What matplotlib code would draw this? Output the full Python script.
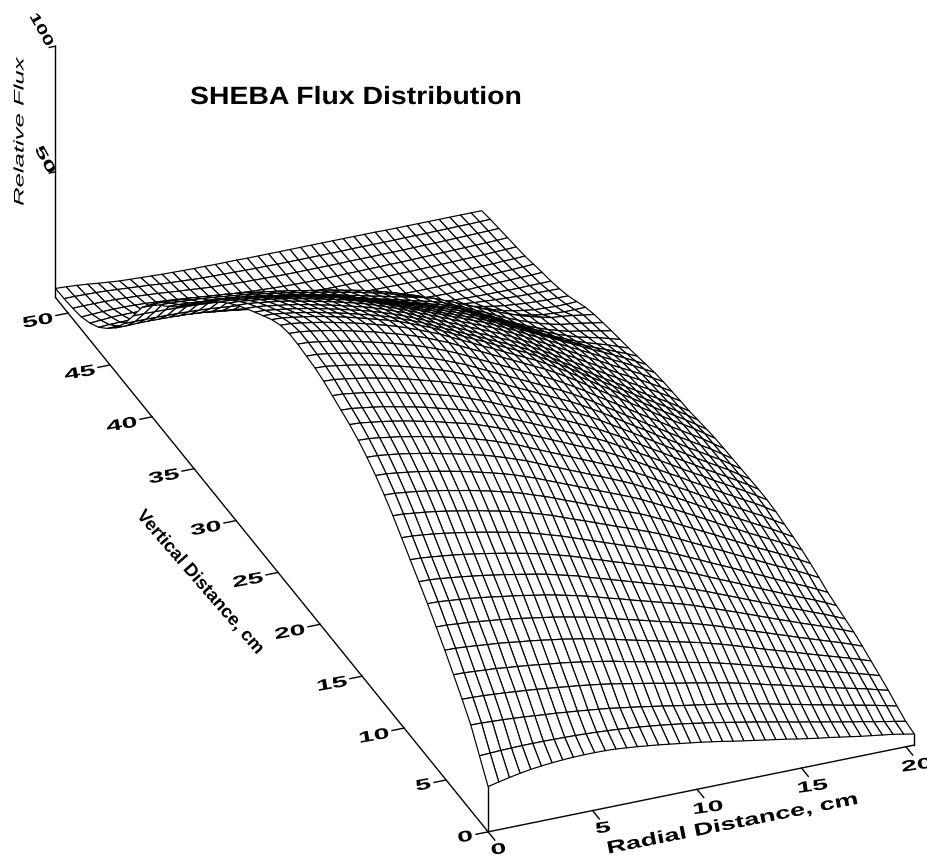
import numpy as np
import matplotlib
matplotlib.use("Agg")
import matplotlib.pyplot as plt
from matplotlib.patheffects import AbstractPathEffect
from matplotlib.transforms import Affine2D
from mpl_toolkits.mplot3d import proj3d

# Radial lines every 0.51 cm, vertical lines every 1.03 cm
radial_cm = np.linspace(0, 20.4, 41)
vertical_cm = np.linspace(0, 51.5, 51)

# Relative flux x10, one row per vertical line (bottom of core first)
flux_x10 = [
[180,190,199,207,214,219,223,226,228,229,229,228,226,222,218,213,208,202,196,190,184,177,170,162,155,148,141,134,127,119,112,105,99,92,85,78,72,66,60,52,44],
[260,262,264,265,266,266,266,265,264,263,261,259,256,253,249,245,240,235,229,223,216,209,202,194,186,178,170,161,153,144,135,127,118,110,101,93,85,76,68,60,52],
[340,339,337,335,332,329,325,321,318,313,309,304,299,294,287,281,274,267,260,252,245,238,231,224,217,209,200,191,182,172,163,154,144,135,126,116,108,99,90,80,70],
[400,399,397,394,391,387,383,379,374,369,364,359,353,347,340,332,324,316,308,299,291,283,275,266,258,249,239,229,218,207,197,186,175,165,154,143,133,123,113,101,90],
[455,454,451,448,445,440,436,431,426,420,415,409,402,395,387,379,369,360,351,342,333,323,314,305,296,285,274,262,250,238,226,214,202,190,178,166,155,143,131,119,106],
[510,509,506,502,498,494,489,483,478,472,465,459,451,443,434,425,415,404,394,384,374,363,353,343,333,321,309,296,282,269,255,242,229,216,202,189,176,163,150,136,122],
[560,559,555,552,547,542,537,531,525,518,511,504,496,487,478,468,457,445,434,423,412,400,390,378,367,354,341,327,312,298,283,269,254,240,225,211,197,183,169,154,138],
[610,609,605,601,596,591,585,578,572,565,557,550,541,531,521,510,498,485,474,461,449,437,425,413,401,387,372,357,341,326,310,294,278,262,247,231,216,201,185,169,152],
[655,654,650,645,640,634,628,621,614,606,598,590,581,570,559,548,534,521,508,495,482,469,456,443,430,415,399,383,366,349,332,315,298,281,264,247,231,214,198,180,162],
[700,698,694,689,684,678,671,664,656,648,639,630,620,609,597,585,571,556,543,528,515,500,487,472,459,443,426,409,390,372,354,336,317,299,281,263,245,228,211,192,172],
[745,743,739,734,728,721,714,706,698,689,680,671,660,648,635,622,607,592,577,562,547,532,518,502,488,471,453,434,415,395,376,357,337,318,299,279,260,242,223,203,182],
[790,788,783,778,772,765,757,749,741,731,722,712,701,688,675,661,645,629,614,598,582,566,551,535,519,502,483,463,442,422,402,382,361,341,321,300,280,261,241,220,198],
[830,828,823,818,811,804,796,787,779,769,759,748,737,724,709,695,679,662,646,629,613,596,580,564,548,529,509,489,467,446,425,404,382,361,340,318,298,278,257,235,212],
[865,863,858,852,846,838,830,821,812,802,791,780,768,755,740,725,708,691,674,657,640,623,606,589,572,553,532,511,489,467,445,423,400,378,357,334,313,292,271,248,224],
[895,893,888,882,875,867,859,849,840,829,819,808,795,781,766,751,733,715,698,680,663,645,628,610,592,573,551,530,506,484,461,438,415,393,370,347,325,303,281,257,233],
[920,918,913,906,900,891,883,873,864,853,842,830,817,803,787,772,753,735,717,699,681,663,645,627,609,589,567,545,521,498,474,451,427,404,381,357,335,312,290,265,240],
[940,938,932,926,919,911,902,892,883,871,860,849,836,821,805,789,770,752,734,715,697,678,660,642,624,603,581,558,534,510,486,463,438,415,391,367,344,321,299,274,248],
[955,953,947,941,934,925,916,907,897,885,874,862,849,834,818,802,783,764,746,727,708,689,671,652,634,613,590,567,542,518,494,470,445,421,398,373,350,327,303,278,252],
[970,968,962,956,948,940,931,920,910,899,887,875,862,846,830,813,794,775,756,737,718,699,680,661,642,620,597,574,549,524,499,475,449,425,401,375,352,328,304,279,252],
[985,983,977,970,963,954,945,934,924,912,900,888,874,859,842,825,805,785,766,746,727,707,688,668,649,627,604,579,554,529,503,478,452,427,402,376,352,328,304,277,250],
[995,993,987,980,973,964,954,943,933,921,909,896,882,867,849,832,812,792,772,752,733,713,693,673,654,631,607,583,557,531,505,480,453,428,403,376,352,327,303,276,248],
[1000,998,992,985,977,968,959,948,937,925,913,900,886,870,853,836,815,795,775,755,735,715,695,675,655,633,609,584,557,532,505,480,453,428,402,376,351,326,301,274,246],
[1005,1003,997,990,982,973,963,952,942,930,917,905,890,874,857,839,819,798,778,758,738,717,698,677,657,634,610,585,558,532,506,480,453,427,402,375,350,325,300,272,244],
[1005,1003,997,990,982,973,963,952,942,929,917,904,890,874,856,839,818,797,778,757,737,717,697,676,656,633,609,584,557,531,504,479,452,426,400,373,348,323,298,270,242],
[995,993,987,980,972,963,953,943,932,920,908,895,880,864,847,830,809,789,769,748,729,708,688,668,648,625,601,576,549,524,497,471,445,419,393,367,341,316,291,264,236],
[975,973,967,960,953,944,934,924,913,901,889,877,863,847,830,813,792,772,753,733,714,693,674,654,635,612,588,564,538,512,486,461,435,410,384,358,334,309,284,258,230],
[948,946,940,934,926,918,908,898,888,876,865,852,839,823,807,790,770,751,732,712,694,674,655,636,617,595,572,548,522,498,472,448,422,398,373,348,324,300,276,250,223],
[920,918,912,906,899,891,882,872,862,851,840,828,814,800,784,767,749,730,711,693,674,655,637,618,600,579,557,534,509,485,461,437,413,389,365,340,317,294,271,246,220],
[892,890,885,878,872,864,855,845,836,825,814,803,790,776,760,745,726,708,691,672,655,636,619,601,583,563,541,519,495,472,449,426,402,379,356,332,310,288,265,241,216],
[862,860,855,849,843,835,826,817,808,798,787,776,764,750,735,720,703,685,668,651,634,616,599,582,565,545,525,503,480,458,436,414,391,369,347,324,302,281,259,236,212],
[828,826,821,816,809,802,794,785,776,766,756,746,734,721,707,692,676,659,643,626,610,593,577,560,544,525,505,485,463,442,420,399,377,356,335,313,292,272,251,229,206],
[790,788,783,778,772,765,757,749,741,731,722,712,700,688,674,660,644,628,613,597,582,565,550,534,519,501,482,462,441,421,400,380,359,339,319,298,279,259,239,218,196],
[750,748,744,739,733,726,719,711,703,694,685,676,665,653,640,627,612,597,582,567,552,537,522,507,492,475,455,436,414,394,372,352,331,311,292,273,255,239,222,205,186],
[707,705,701,696,691,685,678,670,663,654,646,637,627,616,603,591,577,563,549,534,521,506,492,478,464,448,428,408,386,365,344,323,302,283,265,247,232,219,206,191,176],
[657,656,652,647,642,636,630,623,616,609,601,592,583,573,562,550,537,524,511,498,485,472,459,446,434,419,399,379,358,337,316,296,276,258,241,226,212,202,192,180,168],
[605,604,600,596,592,586,581,574,568,561,554,546,538,528,518,508,496,484,472,460,449,437,425,413,402,388,369,349,329,309,288,268,249,232,217,204,192,185,177,168,160],
[558,557,554,550,546,541,536,530,524,518,511,504,496,488,478,469,458,447,436,425,415,404,393,382,372,359,341,323,303,285,265,246,229,213,199,187,177,171,165,157,150],
[517,516,513,509,506,501,496,491,486,480,474,467,460,452,443,435,425,414,405,394,385,374,365,355,345,333,316,299,281,263,245,227,211,196,183,172,162,158,153,146,140],
[480,479,477,474,471,467,462,457,452,446,439,432,425,417,409,401,393,384,375,366,356,345,333,320,307,293,274,256,237,220,203,186,171,158,147,138,131,128,125,125,126],
[440,439,437,435,432,428,424,420,415,409,402,396,389,382,374,366,358,350,341,332,323,312,300,287,273,259,241,224,206,189,172,157,144,131,121,114,108,106,104,104,106],
[386,385,384,381,378,375,371,367,362,357,352,346,340,334,327,320,313,305,297,288,278,266,252,237,222,207,190,174,159,145,132,122,113,105,99,95,91,89,87,87,86],
[310,310,309,308,306,304,302,299,296,292,288,284,279,274,268,262,255,247,238,227,215,201,187,173,159,146,134,123,113,104,95,90,86,83,80,78,76,75,74,73,72],
[237,237,237,236,235,234,232,230,227,223,219,214,209,203,197,190,183,175,167,159,150,139,128,118,108,99,91,84,77,71,65,63,61,60,59,59,58,58,59,59,60],
[177,177,178,178,177,176,174,172,169,165,160,155,149,143,136,130,123,116,109,102,95,88,81,74,68,62,57,53,49,47,45,44,44,44,45,46,47,48,49,50,52],
[132,133,134,134,133,131,129,126,122,118,112,107,101,95,89,83,77,71,66,60,55,50,46,42,39,36,33,31,30,30,30,30,31,32,33,34,35,37,38,40,42],
[94,96,97,98,98,97,95,92,88,83,77,72,66,60,55,50,45,41,37,33,30,27,25,23,22,21,20,20,20,20,20,21,22,23,24,25,26,27,29,30,32],
[68,71,74,75,75,74,72,69,65,60,55,49,44,38,33,29,25,22,19,17,15,14,13,13,13,13,13,13,13,14,14,15,16,17,18,19,20,21,23,24,26],
[50,52,54,55,55,54,52,49,46,42,38,33,28,24,20,17,14,12,10,8,7,6,6,6,6,7,7,8,8,9,9,10,11,12,13,14,15,16,17,18,20],
[42,43,43,43,42,40,38,35,32,28,24,21,17,14,12,10,8,7,6,5,4,4,4,4,4,4,5,5,5,6,6,6,7,8,8,9,10,11,12,13,14],
[38,38,37,36,34,31,28,25,22,18,15,13,10,8,7,6,5,4,3,3,2,2,2,2,2,2,2,3,3,3,3,3,4,4,4,5,5,6,6,7,8],
[36,34,31,27,22,18,14,12,10,8,6,5,4,3,3,2,2,2,1,1,1,1,1,1,1,1,1,1,1,1,1,0,0,0,0,0,0,0,0,0,0],
]

radial_ticks = [0, 5, 10, 15, 20]
vertical_ticks = [0, 5, 10, 15, 20, 25, 30, 35, 40, 45, 50]
flux_ticks = [50, 100]


class Stretch(AbstractPathEffect):
    # the scan has its lettering squashed by the 3D view, so widen the glyphs
    def __init__(self, sx=1.0, sy=1.0, shear=0):
        super().__init__()
        self.m = Affine2D().skew_deg(shear, 0).scale(sx, sy)

    def draw_path(self, renderer, gc, tpath, affine, rgbFace=None):
        renderer.draw_path(gc, tpath, self.m + affine, rgbFace)


plt.rcParams["font.family"] = ["Liberation Sans", "DejaVu Sans"]

W, H = 928, 856
S = 1235
cx, cy = 468.2, 443.7
fig = plt.figure(figsize=(W/100, H/100), dpi=100)
ax = fig.add_axes([(cx-S/2)/W, (cy-S/2)/H, S/W, S/H], projection="3d", proj_type="ortho")
ax.set_box_aspect((460.8, 1152, 291))
ax.view_init(elev=30.1, azim=-112.1)
ax.set_xlim(0, 20.4, view_margin=0)
ax.set_ylim(0, 51.5, view_margin=0)
ax.set_zlim(0, 100, view_margin=0)
ax.set_axis_off()
ax.computed_zorder = False


def label3d(x, y, z, s, sx, size, rotation, **kw):
    # Text3D throws away rotation, so project the anchor and place plain text there
    px, py, _ = proj3d.proj_transform(x, y, z, ax.get_proj())
    ax.text2D(px, py, s, transform=ax.transData, fontsize=size, rotation=rotation, ha="left", va="baseline",
              rotation_mode="anchor", path_effects=[Stretch(sx)], **kw)


Z = np.array(flux_x10) / 10
X, Y = np.meshgrid(radial_cm, vertical_cm)
ax.plot_surface(X, Y, Z, rstride=1, cstride=1, color="white", edgecolor="black",
                linewidth=0.85, shade=False, zorder=1)

# box edges
line = dict(color="black", lw=1.0, zorder=2)
ax.plot([0, 20.4], [0, 0], [0, 0], **line)
ax.plot([0, 0], [0, 51.5], [0, 0], **line)
ax.plot([0, 0], [51.5, 51.5], [0, 100], **line)
ax.plot([0, 0], [0, 0], [0, Z[0, 0]], **line)
ax.plot([20.4, 20.4], [0, 0], [0, Z[0, -1]], **line)

# ticks and their labels
for t in radial_ticks:
    ax.plot([t, t], [0, -0.8], [0, 0], **line)
    dx, dz = (1.0, 0) if t >= 10 else (0.65, 0.2)
    label3d(t-dx, -2, dz, str(t), 1.85, 11, 8, fontweight="bold")
for t in vertical_ticks:
    ax.plot([-0.58, 0], [t, t], [0, 0], **line)
    dx, dz = (2.15, -2.3) if t >= 10 else (1.43, -1.9)
    label3d(-dx, t, dz, str(t), 1.85, 11, 10, fontweight="bold")
for t in flux_ticks:
    ax.plot([-0.3, 0], [51.5, 51.5], [t, t], **line)
label3d(-1.02, 51.5, 61, "50", 1.95, 10, -61, fontweight="bold")
label3d(-1.26, 51.5, 114.2, "100", 1.55, 10, -61, fontweight="bold")

# axis titles
label3d(4.19, -3.83, 0, "Radial Distance, cm", 1.55, 12.6, 11.3, fontweight="bold")
label3d(-3.95, 32.07, 0, "Vertical Distance, cm", 1.02, 13, -49, fontweight="bold")
label3d(-1.53, 51.5, 39, "Relative Flux", 1.85, 10, 90, style="italic")

fig.text(190/W, 1-104/H, "SHEBA Flux Distribution", fontsize=18, fontweight="bold", ha="left", va="baseline",
         path_effects=[Stretch(1.136)])

fig.savefig("out.png", dpi=100)
